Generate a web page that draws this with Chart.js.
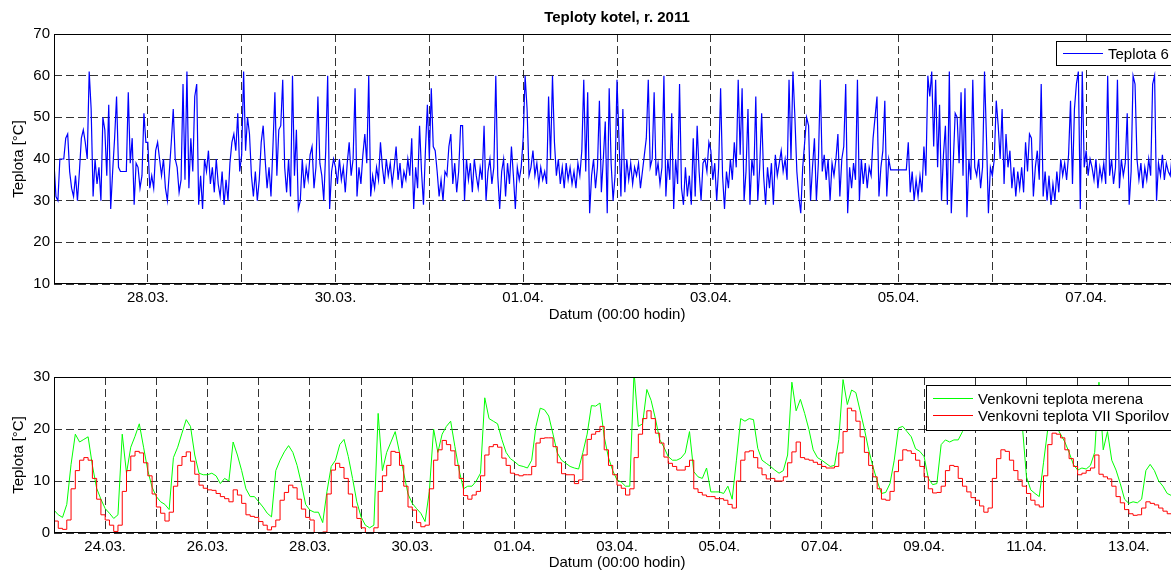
<!DOCTYPE html>
<html>
<head>
<meta charset="utf-8">
<title>Teploty kotel, r. 2011</title>
<script src="https://cdn.jsdelivr.net/npm/chart.js@4.4.0/dist/chart.umd.min.js"></script>
<style>
  html, body { margin: 0; padding: 0; background: #fff; overflow: hidden; }
  #fig { position: relative; width: 1171px; height: 572px; overflow: hidden; background: #fff; }
  #top-chart { position: absolute; left: 0; top: 0; }
  #bottom-chart { position: absolute; left: 0; top: 330px; }
</style>
</head>
<body>
<div id="fig">
  <canvas id="top-chart" width="1190" height="330"></canvas>
  <canvas id="bottom-chart" width="1190" height="242"></canvas>
</div>
<script>
/* ============================================================
   Teploty kotel, r. 2011 — two stacked panels
   ============================================================ */

// --- top panel: boiler temperature, half-hour samples from 27.03. 00:00
const kotelTemp = [
  39,31,30,40,40,40,45,46,37,33,31,36,30,37,45,47,44,40,61,52,31,40,34,38,30,50,47,36,53,28,37,45,55,38,37,37,37,37,56,39,45,29,39,38,33,36,51,44,
  44,33,36,33,42,44,40,36,40,33,30,37,44,52,40,38,32,35,58,35,61,33,45,37,55,58,29,36,28,40,37,42,34,38,32,40,34,31,37,29,35,30,39,44,46,42,51,37,
  41,61,42,50,46,36,31,37,30,35,44,48,40,33,38,31,43,56,36,47,48,59,38,32,40,31,60,36,47,28,30,40,33,38,35,41,43,33,38,55,39,36,30,42,60,28,37,40,
  38,34,40,35,38,32,39,44,36,40,57,31,38,34,41,46,39,60,31,36,33,38,35,44,38,34,40,36,39,34,38,43,35,39,33,37,35,40,36,45,28,38,33,48,37,29,42,53,
  40,57,43,42,37,31,35,30,37,36,43,46,34,39,32,37,48,48,30,40,35,39,32,40,36,33,38,35,48,30,37,40,34,38,60,36,28,37,40,31,39,34,43,36,28,38,35,38,
  45,60,52,36,38,42,36,39,34,38,35,37,34,55,40,60,44,36,40,34,38,33,39,35,38,34,37,33,39,36,42,59,37,56,27,36,40,33,38,54,32,40,49,27,57,39,30,36,
  59,45,31,52,32,40,35,39,34,38,36,39,33,37,41,45,59,38,40,56,36,39,34,38,60,31,40,35,51,28,40,34,58,33,29,38,31,36,29,45,31,48,37,30,39,40,37,44,
  42,35,39,30,38,57,36,28,37,33,40,35,44,38,59,41,57,30,37,52,29,40,36,55,30,38,51,36,29,38,33,39,29,41,36,39,42,37,40,35,59,40,61,50,37,31,27,38,
  44,50,48,30,38,45,30,39,59,37,41,35,40,30,39,36,40,46,31,40,43,58,27,38,33,39,35,59,30,40,34,39,33,38,36,45,50,55,31,38,42,54,31,40,37.4,37.4,37.4,37.4,
  37.4,37.4,37.4,37.4,37.4,44,32,37,30,35,31,36,32,43,36,60,55,61,43,59,38,53,30,41,48,29,61,27,39,51,50,39,56,36,57,26,40,35,59,38,36,40,33,38,61,45,27,38,
  36,40,54,48,40,52,34,46,38,42,33,38,31,37,33,38,32,44,37,46,45,31,38,42,35,58,31,37,30,36,29,34,30,37,32,40,36,39,35,41,54,34,52,58,61,28,61,38,
  42,36,40,38,35,40,33,38,35,39,34,60,36,40,34,38,59,33,40,36,39,51,29,37,60,58,40,35,39,33,38,35,40,36,58,60,30,39,36,41,35,39,37,36,41,35,39,37
];
const topTickDays   = [1, 3, 5, 7, 9, 11];
const topTickLabels = ['28.03.', '30.03.', '01.04.', '03.04.', '05.04.', '07.04.'];

// --- bottom panel: outdoor temperatures, 2-hour samples from 23.03. 00:00
const merenaTemp = [
  4.4,3.5,3.0,5.5,13.2,19.0,17.5,18.0,18.5,13.0,8.6,6.5,
  4.7,3.8,2.8,3.5,19.0,11.5,16.5,18.6,21.0,16.5,12.0,8.8,
  7.0,6.0,5.5,4.5,14.5,16.5,19.2,21.8,20.5,15.0,11.5,11.2,
  11.2,11.5,11.0,9.5,10.5,10.0,17.5,15.0,12.0,8.5,7.0,7.0,
  6.0,5.0,3.8,3.1,12.0,14.0,15.6,16.8,15.5,13.0,9.5,5.5,
  4.4,4.0,4.0,2.0,8.0,12.8,14.0,17.0,18.0,14.7,10.5,6.0,
  3.1,1.5,1.0,1.5,23.0,12.0,15.5,17.5,19.5,15.5,11.5,7.5,
  5.7,4.7,3.8,2.2,8.0,20.0,15.5,19.0,20.5,21.5,16.6,12.0,
  8.5,9.0,9.0,10.0,11.5,26.0,22.0,21.5,21.0,18.0,15.5,14.3,
  13.7,13.0,12.8,12.5,14.0,20.5,24.0,23.7,22.5,19.0,15.4,14.0,
  13.4,12.8,12.5,12.3,15.5,19.0,24.5,24.4,25.0,18.5,14.5,12.0,
  10.2,9.8,9.0,9.0,31.0,20.5,21.0,27.6,25.5,22.0,18.0,16.5,
  14.7,14.0,14.0,14.4,15.4,19.5,11.8,10.8,10.5,12.5,7.9,7.9,
  7.9,7.6,9.0,6.5,14.0,22.0,21.5,22.0,21.8,16.3,14.0,13.4,
  12.8,12.1,11.5,12.0,15.0,29.0,23.5,25.7,23.0,19.9,16.0,14.5,
  14.0,13.4,12.8,13.0,18.0,29.5,24.7,27.5,27.0,23.5,20.0,16.0,
  12.8,10.0,7.6,7.8,9.5,14.0,20.2,20.5,19.5,18.5,16.2,15.7,
  14.7,10.5,9.3,9.5,17.0,17.9,17.5,17.9,17.9,19.5,21.0,21.0,
  21,21,21,21,21,21,21,21,21,21,21,21,
  10.8,8.3,7.6,7.0,13.5,20.0,21.0,20.5,19.0,17.5,15.5,13.2,
  12.1,12.5,12.3,13.0,15.5,29.0,16.0,19.5,14.0,12.1,9.5,6.5,
  5.7,6.0,5.8,6.5,12.0,13.2,12.0,10.0,9.0,7.6,7.2,7.0
];
const sporilovTemp = [
  2.3,0.9,0.7,2.5,8.5,12.0,14.0,14.5,14.0,10.5,6.5,3.5,
  2.5,1.5,0.3,1.5,8.0,12.0,14.8,15.7,15.4,13.5,11.0,7.5,
  5.0,3.8,2.3,4.0,9.0,13.0,14.7,15.6,13.8,11.3,9.2,8.6,
  8.3,8.2,7.6,7.0,6.6,6.0,8.3,7.3,5.7,3.5,3.2,3.0,
  2.2,1.5,0.6,1.2,2.5,6.3,7.8,9.2,8.7,6.5,4.6,3.0,
  2.5,0.0,0.0,0.2,7.5,12.1,13.4,12.6,10.5,7.5,5.0,2.8,
  1.0,0.0,0.0,1.0,8.0,11.0,13.0,15.7,15.5,13.0,9.0,5.0,
  4.4,2.0,1.2,1.5,8.5,14.0,16.0,17.8,17.0,15.8,13.0,10.5,
  7.2,6.5,7.3,8.0,11.0,15.0,16.6,17.0,16.5,14.4,13.0,11.5,
  11.2,11.0,11.2,11.2,12.8,17.3,18.2,18.3,18.3,16.6,13.5,11.4,
  11.2,11.2,9.5,10.2,15.0,18.0,19.0,19.5,20.5,16.0,13.0,11.2,
  9.2,8.6,7.3,8.5,14.5,19.0,22.0,23.5,22.0,19.2,17.3,14.6,
  13.4,12.8,12.1,12.1,12.8,14.0,8.5,7.8,7.3,7.0,7.0,6.6,
  6.6,6.3,5.5,4.8,10.0,14.0,15.6,15.8,14.5,12.5,11.2,10.4,
  10.5,10.0,10.0,10.8,13.5,15.6,17.5,14.5,14.2,14.0,13.6,13.2,
  12.8,12.5,12.5,12.8,15.4,19.5,24.0,23.5,21.5,18.5,15.5,13.0,
  10.8,8.5,6.5,6.3,8.0,11.8,14.0,16.0,15.8,15.3,14.0,12.8,
  10.8,8.5,7.7,7.8,9.0,12.0,13.0,12.8,10.5,9.0,7.9,6.8,
  6.3,5.2,4.0,4.8,10.5,14.3,16.0,15.7,14.0,12.0,10.2,9.0,
  7.6,6.3,5.4,5.0,11.0,17.0,19.2,19.0,18.3,16.0,14.3,12.8,
  11.2,11.5,12.0,12.5,15.0,11.3,10.8,10.4,9.0,7.0,5.8,4.5,
  3.7,3.4,3.5,4.8,6.0,5.7,5.4,4.8,4.2,3.7,3.6,3.5
];
const bottomTickDays   = [1, 3, 5, 7, 9, 11, 13, 15, 17, 19, 21];
const bottomTickLabels = ['24.03.', '26.03.', '28.03.', '30.03.', '01.04.', '03.04.', '05.04.', '07.04.', '09.04.', '11.04.', '13.04.'];

const FONT = '"Liberation Sans", Arial, Helvetica, sans-serif';
const GRID = 'rgba(0,0,0,0.8)';

Chart.defaults.font.family = FONT;
Chart.defaults.font.size = 15;
Chart.defaults.color = '#000';

const toPoints = (values, perDay) => values.map((v, i) => ({ x: i / perDay, y: v }));

// MATLAB-like axes box, title and boxed legend
const matlabPlugin = {
  id: 'matlab',
  afterDraw(chart, args, opts) {
    const { ctx, chartArea: a } = chart;
    ctx.save();
    ctx.strokeStyle = '#000';
    ctx.lineWidth = 1;
    ctx.strokeRect(Math.round(a.left) + 0.5, Math.round(a.top) + 0.5,
                   Math.round(a.right - a.left) - 1, Math.round(a.bottom - a.top) - 1);

    if (opts.title) {
      ctx.font = `bold 15px ${FONT}`;
      ctx.fillStyle = '#000';
      ctx.textAlign = 'center';
      ctx.textBaseline = 'middle';
      ctx.fillText(opts.title, (a.left + a.right) / 2, opts.titleY);
    }

    const lg = opts.legend;
    if (lg) {
      ctx.fillStyle = '#fff';
      ctx.fillRect(lg.x, lg.y, lg.w, lg.h);
      ctx.strokeStyle = '#000';
      ctx.strokeRect(lg.x + 0.5, lg.y + 0.5, lg.w, lg.h);
      ctx.font = `15px ${FONT}`;
      ctx.textAlign = 'left';
      ctx.textBaseline = 'middle';
      lg.items.forEach((it, i) => {
        const y = Math.round(lg.y + lg.firstRow + i * lg.rowH) + 0.5;
        ctx.strokeStyle = it.color;
        ctx.beginPath();
        ctx.moveTo(lg.x + 7, y);
        ctx.lineTo(lg.x + 47, y);
        ctx.stroke();
        ctx.fillStyle = '#000';
        ctx.fillText(it.label, lg.x + 52, y + 1);
      });
    }
    ctx.restore();
  },
};

function dayAxis(maxDay, tickDays, tickLabels, height, titlePad) {
  return {
    type: 'linear',
    min: 0,
    max: maxDay,
    afterFit: (s) => { s.height = height; },
    ticks: {
      stepSize: 1,
      autoSkip: false,
      maxRotation: 0,
      padding: 5,
      callback: (v) => {
        const i = tickDays.indexOf(v);
        return i < 0 ? '' : tickLabels[i];
      },
    },
    grid: { color: GRID, lineWidth: 1, drawTicks: false },
    border: { display: false, dash: [8, 4] },
    title: { display: true, text: 'Datum (00:00 hodin)', padding: { top: 0, bottom: titlePad } },
  };
}

function tempAxis(min, max) {
  return {
    min,
    max,
    afterFit: (s) => { s.width = 54; },
    ticks: { stepSize: 10, padding: 4 },
    grid: { color: GRID, lineWidth: 1, drawTicks: false },
    border: { display: false, dash: [8, 4] },
    title: { display: true, text: 'Teplota [°C]', padding: { top: 10, bottom: 0 } },
  };
}

new Chart(document.getElementById('top-chart'), {
  type: 'line',
  data: {
    datasets: [{
      label: 'Teplota 6',
      data: toPoints(kotelTemp, 48),
      borderColor: '#0000ff',
      borderWidth: 1.2,
      pointRadius: 0,
    }],
  },
  options: {
    responsive: false,
    animation: false,
    layout: { padding: { top: 34, right: 10, left: 0, bottom: 0 } },
    scales: { x: dayAxis(12, topTickDays, topTickLabels, 46, 6), y: tempAxis(10, 70) },
    plugins: {
      legend: { display: false },
      tooltip: { enabled: false },
      matlab: {
        title: 'Teploty kotel, r. 2011',
        titleY: 18,
        legend: { x: 1056, y: 41, w: 200, h: 24, firstRow: 12, rowH: 17,
                  items: [{ label: 'Teplota 6', color: '#0000ff' }] },
      },
    },
  },
  plugins: [matlabPlugin],
});

new Chart(document.getElementById('bottom-chart'), {
  type: 'line',
  data: {
    datasets: [
      {
        label: 'Venkovni teplota VII Sporilov',
        data: toPoints(sporilovTemp, 12),
        borderColor: '#ff0000',
        borderWidth: 1,
        pointRadius: 0,
        stepped: true,
      },
      {
        label: 'Venkovni teplota merena',
        data: toPoints(merenaTemp, 12),
        borderColor: '#00ff00',
        borderWidth: 1,
        pointRadius: 0,
      },
    ],
  },
  options: {
    responsive: false,
    animation: false,
    layout: { padding: { top: 47, right: 10, left: 0, bottom: 0 } },
    scales: { x: dayAxis(22, bottomTickDays, bottomTickLabels, 39, 0), y: tempAxis(0, 30) },
    plugins: {
      legend: { display: false },
      tooltip: { enabled: false },
      matlab: {
        legend: { x: 926, y: 55, w: 300, h: 45, firstRow: 13, rowH: 17,
                  items: [{ label: 'Venkovni teplota merena', color: '#00ff00' },
                          { label: 'Venkovni teplota VII Sporilov', color: '#ff0000' }] },
      },
    },
  },
  plugins: [matlabPlugin],
});
</script>
</body>
</html>
